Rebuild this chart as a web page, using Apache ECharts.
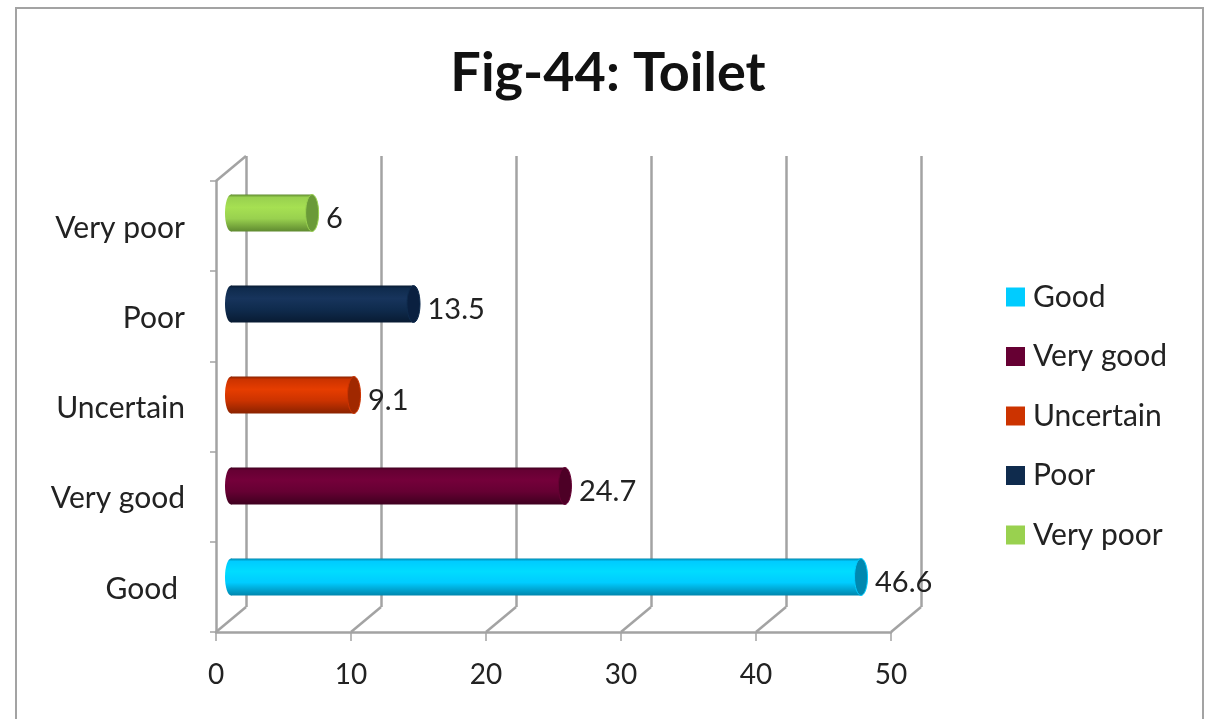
<!DOCTYPE html>
<html><head><meta charset="utf-8">
<style>html,body{margin:0;padding:0;background:#fff}#c{width:1216px;height:719px}</style>
<script src="https://cdn.jsdelivr.net/npm/echarts@6/dist/echarts.min.js"></script>
</head><body><div id="c"></div>
<script>
const categories = ['Good','Very good','Uncertain','Poor','Very poor'];
const values = [46.6,24.7,9.1,13.5,6];
const xTicks = [0,10,20,30,40,50];
const mainColors = ['#00ccff','#660033','#cc3300','#0f2b4d','#99d14f'];
const brightColors = ['#00dcff','#74003a','#e63d00','#17345c','#a6e052'];
const darkColors = ['#0086ad','#3f001f','#8a2200','#081b33','#5f8a30'];
const capColors = ['#0088b0','#4d0026','#a02800','#0a2040','#6a9a38'];

const font = 'Lato';
const lineColor = '#a3a3a3';
const chart = echarts.init(document.getElementById('c'));
const catAxisBase = {type:'category',data:categories};
const valAxisBase = {type:'value',min:0,max:50,interval:10};
const barFill = i => ({type:'linear',x:0,y:0,x2:0,y2:1,colorStops:[
  {offset:0,color:darkColors[i]},
  {offset:0.08,color:mainColors[i]},
  {offset:0.35,color:brightColors[i]},
  {offset:0.65,color:mainColors[i]},
  {offset:1,color:darkColors[i]}]});

const barSeries = categories.map((name,i)=>({
  name, type:'bar', xAxisIndex:1, yAxisIndex:1, barWidth:37, barGap:'-100%', z:5,
  data: values.map((v,j)=> j===i ? v : null),
  itemStyle:{color:barFill(i)},
  label:{show:true,position:'right',distance:14,offset:[0,6],fontFamily:font,fontSize:29,color:'#222',
    formatter:p=>p.value}
}));

chart.setOption({
  animation:false,
  backgroundColor:'#fff',
  title:{text:'Fig-44: Toilet',left:603,top:42,textAlign:'center',
    textStyle:{fontFamily:font,fontWeight:'bold',fontSize:54,color:'#111'}},
  legend:{left:1006,top:282,padding:0,orient:'vertical',icon:'rect',itemWidth:19,itemHeight:19,itemGap:29.5,
    data:categories.map((name,i)=>({name,itemStyle:{color:mainColors[i]}})),
    textStyle:{fontFamily:font,fontSize:30,color:'#222',padding:[0,0,0,3]}},
  graphic:[{type:'rect',shape:{x:16,y:8,width:1187,height:800},style:{fill:'none',stroke:lineColor,lineWidth:2},silent:true}],
  grid:[
    {left:216,right:325,top:181,bottom:87},
    {left:231,right:309,top:167.5,bottom:96.5},
    {left:246,right:295,top:156,bottom:112}
  ],
  xAxis:[
    {...valAxisBase,gridIndex:0,splitLine:{show:false},
      axisLine:{show:true,lineStyle:{color:lineColor,width:2.5}},
      axisTick:{show:true,length:9,lineStyle:{color:lineColor,width:1.5}},
      axisLabel:{margin:29,fontFamily:font,fontSize:28,color:'#222'}},
    {...valAxisBase,gridIndex:1,show:false},
    {...valAxisBase,gridIndex:2,axisLine:{show:false},axisTick:{show:false},axisLabel:{show:false},
      splitLine:{show:true,lineStyle:{color:lineColor,width:2.5}}}
  ],
  yAxis:[
    {...catAxisBase,gridIndex:0,
      axisLine:{show:true,lineStyle:{color:lineColor,width:2.5}},
      axisTick:{show:true,length:6,lineStyle:{color:lineColor,width:1.5}},
      axisLabel:{margin:31,fontFamily:font,fontSize:30,color:'#222',padding:[4,0,0,0],
        formatter:v=> v==='Good' ? '{g|'+v+'}' : v,
        rich:{g:{fontFamily:font,fontSize:30,color:'#222',padding:[0,7,0,0]}}},
      splitLine:{show:false}},
    {...catAxisBase,gridIndex:1,show:false},
    {...catAxisBase,gridIndex:2,show:false}
  ],
  series:[
    {type:'custom',name:'walls',xAxisIndex:0,yAxisIndex:0,z:2,silent:true,clip:false,
      data:xTicks.map(v=>[v]),encode:{x:0},
      renderItem(params,api){
        const v=api.value(0), cs=params.coordSys;
        const x=api.coord([v,0])[0], b=cs.y+cs.height, t=cs.y;
        const style={stroke:lineColor,lineWidth:2.5,fill:'none'};
        const children=[{type:'line',shape:{x1:x,y1:b,x2:x+30,y2:b-25},style}];
        if(v===0) children.push({type:'line',shape:{x1:x,y1:t,x2:x+30,y2:t-25},style});
        return {type:'group',children};
      }},
    ...barSeries,
    {type:'custom',name:'caps',xAxisIndex:1,yAxisIndex:1,z:6,silent:true,clip:false,
      data:values.map((v,i)=>[v,i]),encode:{x:0,y:1},
      renderItem(params,api){
        const i=api.value(1);
        const p=api.coord([api.value(0),i]);
        const s=api.coord([0,i]);
        return {type:'group',children:[
          {type:'ellipse',shape:{cx:s[0],cy:s[1],rx:6,ry:18.5},style:{fill:barFill(i)}},
          {type:'ellipse',shape:{cx:p[0],cy:p[1],rx:6.5,ry:18.5},
            style:{fill:capColors[i],stroke:mainColors[i],lineWidth:1}}
        ]};
      }}
  ]
});
</script></body></html>
